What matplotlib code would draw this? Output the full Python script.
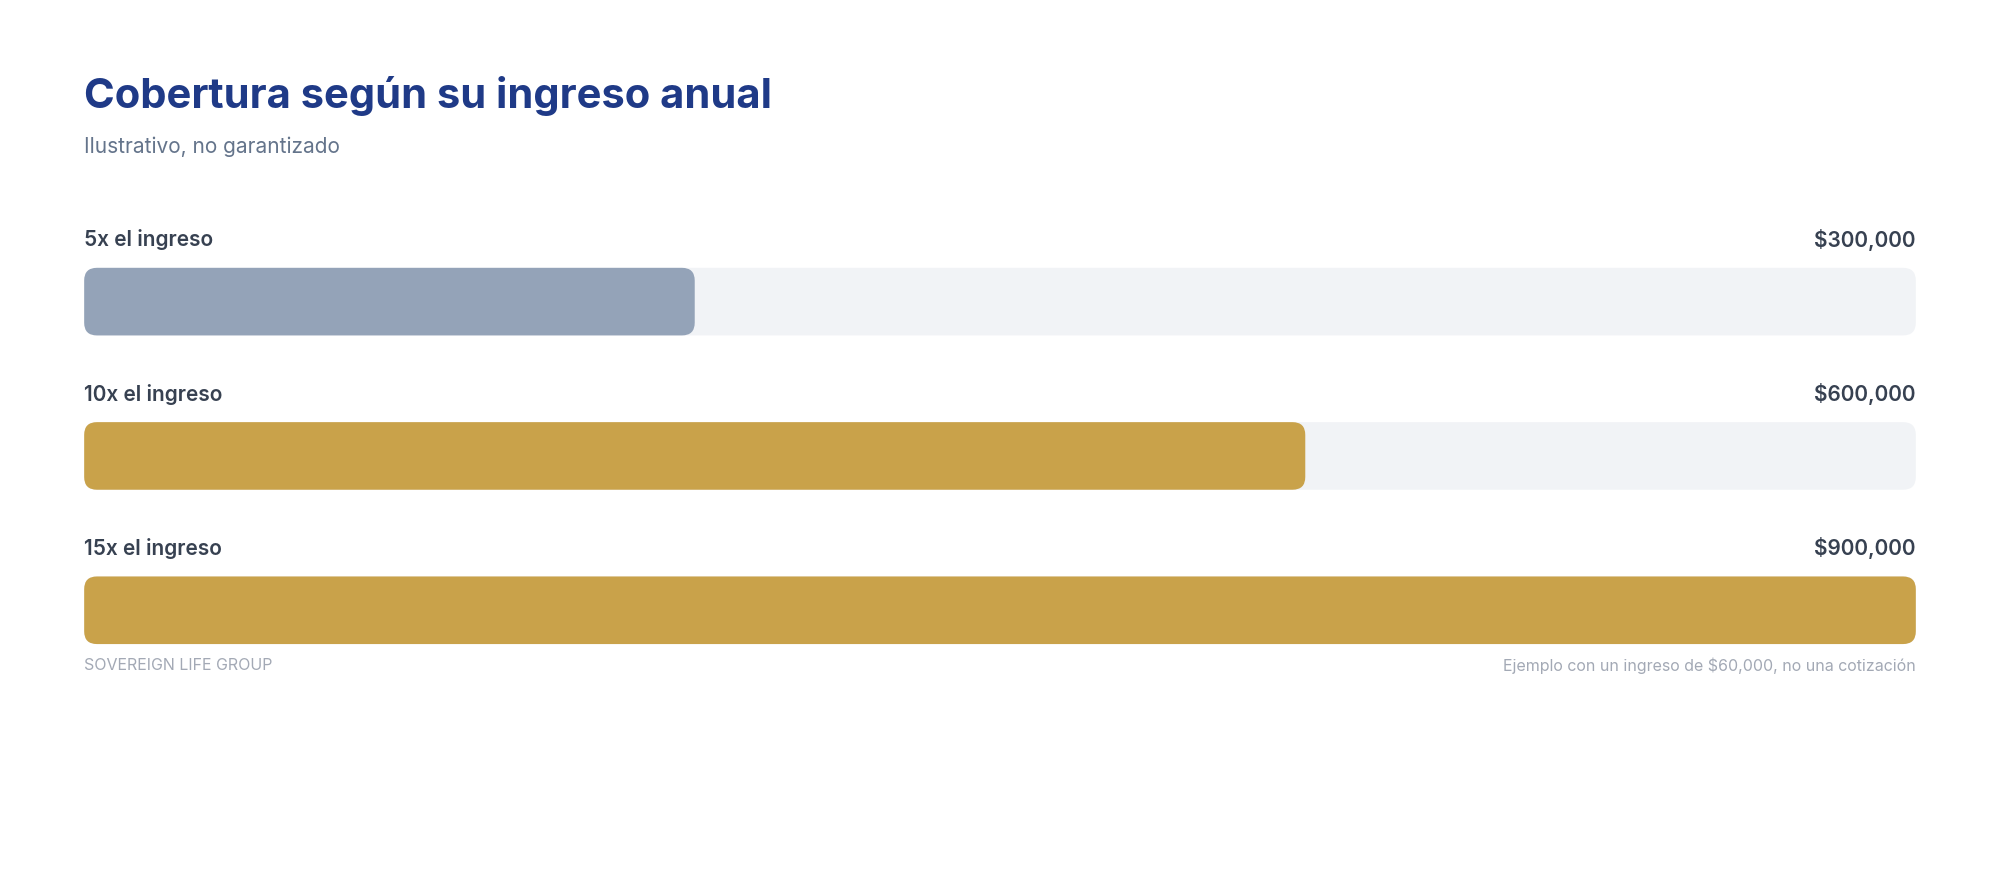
import matplotlib
matplotlib.use("Agg")
import matplotlib.pyplot as plt
from matplotlib.patches import FancyBboxPatch

labels = ["5x el ingreso", "10x el ingreso", "15x el ingreso"]
values = [300000, 600000, 900000]
value_labels = ["$300,000", "$600,000", "$900,000"]
colors = ["#94A3B8", "#C9A24A", "#C9A24A"]
vmax = 900000

plt.rcParams['font.family'] = ['Inter', 'DejaVu Sans']
W, H = 1568, 690
fig = plt.figure(figsize=(20, 8.8), dpi=100)
fig.patch.set_facecolor("white")
ax = fig.add_axes([66 / W, 0, (1502 - 66) / W, 1])
ax.set_xlim(0, vmax)
ax.set_ylim(H, 0)
ax.axis("off")

pxx = vmax / (1502 - 66)  # x units per display px
r = 10 * pxx
asp = 1 / pxx

tr = ax.transData
fig.text(66 / W, 1 - 75 / H, "Cobertura según su ingreso anual", fontsize=30, fontweight="bold",
         color="#1F3A87", va="center", ha="left")
fig.text(66 / W, 1 - 115 / H, "Ilustrativo, no garantizado", fontsize=15, color="#64748B",
         va="center", ha="left")

tops = [210, 331, 452]
bh = 53
for lab, v, vl, c, t in zip(labels, values, value_labels, colors, tops):
    ax.add_patch(FancyBboxPatch((0, t), vmax, bh, boxstyle=f"round,pad=0,rounding_size={r}",
                                mutation_aspect=asp, fc="#F1F3F6", ec="none"))
    ax.add_patch(FancyBboxPatch((0, t), v, bh, boxstyle=f"round,pad=0,rounding_size={r}",
                                mutation_aspect=asp, fc=c, ec="none"))
    ax.text(0, t - 22, lab, fontsize=15, fontweight="semibold", color="#374151", va="center", ha="left")
    ax.text(vmax, t - 22, vl, fontsize=15, fontweight="semibold", color="#374151", va="center", ha="right")

ax.text(0, 522, "S O V E R E I G N   L I F E   G R O U P".replace(" ", "\u200a") if False else "SOVEREIGN LIFE GROUP",
        fontsize=11.5, color="#A3A9B5", va="center", ha="left")
ax.text(vmax, 522, "Ejemplo con un ingreso de $60,000, no una cotización", fontsize=11.5,
        color="#A3A9B5", va="center", ha="right")

fig.savefig("out.png", dpi=100, facecolor="white")
